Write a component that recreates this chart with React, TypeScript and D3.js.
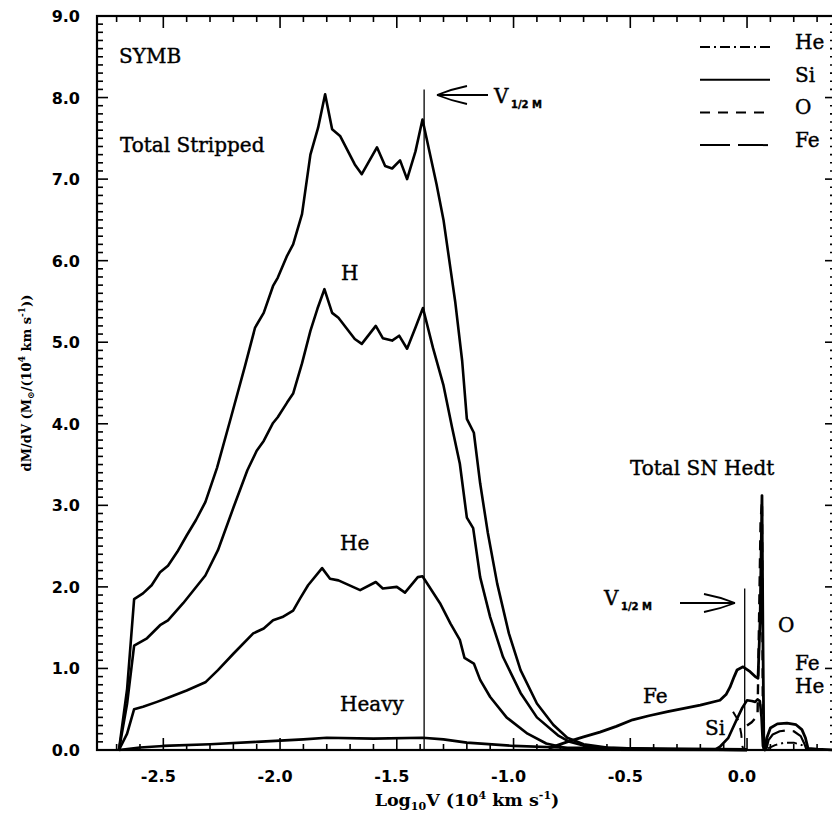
import React from "react";
import * as d3 from "d3";

type Pt = [number, number];

// stripped envelope (log10 V, dM/dV)
const totalStripped: Pt[] = [
  [-2.69, 0], [-2.655, 0.75], [-2.625, 1.85], [-2.587, 1.92], [-2.55, 2.02], [-2.514, 2.18],
  [-2.48, 2.26], [-2.44, 2.43], [-2.4, 2.63], [-2.36, 2.82], [-2.32, 3.04], [-2.27, 3.46],
  [-2.21, 4.08], [-2.15, 4.71], [-2.107, 5.18], [-2.07, 5.36], [-2.03, 5.69], [-2.01, 5.79],
  [-1.97, 6.06], [-1.944, 6.2], [-1.906, 6.57], [-1.87, 7.3], [-1.837, 7.63], [-1.807, 8.04],
  [-1.777, 7.61], [-1.743, 7.53], [-1.68, 7.18], [-1.65, 7.06], [-1.585, 7.39], [-1.55, 7.16],
  [-1.52, 7.13], [-1.486, 7.23], [-1.456, 7.0], [-1.42, 7.34], [-1.39, 7.73], [-1.33, 6.94],
  [-1.3, 6.5], [-1.27, 5.9], [-1.25, 5.5], [-1.22, 4.77], [-1.2, 4.06], [-1.17, 3.89],
  [-1.143, 3.27], [-1.11, 2.66], [-1.07, 2.04], [-1.02, 1.43], [-0.97, 0.98], [-0.9, 0.57],
  [-0.83, 0.31], [-0.77, 0.15], [-0.7, 0.07], [-0.6, 0.03], [-0.4, 0.01], [0.0, 0.0],
];

const hydrogen: Pt[] = [
  [-2.69, 0], [-2.655, 0.57], [-2.625, 1.28], [-2.57, 1.37], [-2.514, 1.53], [-2.48, 1.59],
  [-2.415, 1.8], [-2.32, 2.14], [-2.266, 2.45], [-2.2, 2.97], [-2.14, 3.43], [-2.1, 3.67],
  [-2.07, 3.79], [-2.03, 4.01], [-2.01, 4.08], [-1.97, 4.26], [-1.944, 4.37], [-1.906, 4.74],
  [-1.87, 5.14], [-1.84, 5.41], [-1.81, 5.65], [-1.777, 5.36], [-1.75, 5.3], [-1.68, 5.04],
  [-1.65, 4.98], [-1.59, 5.2], [-1.56, 5.05], [-1.52, 5.02], [-1.49, 5.08], [-1.456, 4.92],
  [-1.42, 5.18], [-1.388, 5.42], [-1.345, 4.93], [-1.3, 4.47], [-1.263, 3.95], [-1.23, 3.51],
  [-1.2, 2.85], [-1.173, 2.72], [-1.143, 2.12], [-1.1, 1.63], [-1.045, 1.14], [-0.97, 0.7],
  [-0.9, 0.4], [-0.81, 0.18], [-0.76, 0.1], [-0.68, 0.04], [-0.55, 0.015], [0.0, 0.0],
];

const helium: Pt[] = [
  [-2.69, 0], [-2.655, 0.2], [-2.625, 0.5], [-2.587, 0.53], [-2.527, 0.59], [-2.48, 0.64],
  [-2.4, 0.73], [-2.32, 0.83], [-2.266, 0.98], [-2.2, 1.18], [-2.115, 1.43], [-2.07, 1.49],
  [-2.03, 1.59], [-1.99, 1.63], [-1.944, 1.71], [-1.914, 1.86], [-1.88, 2.02], [-1.82, 2.23],
  [-1.786, 2.1], [-1.75, 2.08], [-1.657, 1.96], [-1.59, 2.06], [-1.56, 1.98], [-1.5, 2.0],
  [-1.465, 1.93], [-1.41, 2.12], [-1.39, 2.13], [-1.315, 1.8], [-1.27, 1.55], [-1.23, 1.35],
  [-1.21, 1.13], [-1.17, 1.06], [-1.143, 0.86], [-1.1, 0.65], [-1.03, 0.4], [-0.94, 0.2],
  [-0.86, 0.08], [-0.77, 0.02], [-0.6, 0.005], [0.0, 0.0],
];

const heavy: Pt[] = [
  [-2.69, 0], [-2.6, 0.03], [-2.5, 0.05], [-2.3, 0.07], [-2.1, 0.1], [-1.9, 0.13], [-1.8, 0.15],
  [-1.6, 0.14], [-1.39, 0.15], [-1.3, 0.13], [-1.2, 0.09], [-1.0, 0.05], [-0.8, 0.03],
  [-0.5, 0.02], [0.0, 0.01],
];

// supernova ejecta
const snTotal: Pt[] = [
  [-0.85, 0.02], [-0.77, 0.1], [-0.7, 0.16], [-0.63, 0.22], [-0.56, 0.29], [-0.49, 0.37],
  [-0.42, 0.42], [-0.34, 0.47], [-0.27, 0.51], [-0.2, 0.55], [-0.116, 0.61], [-0.09, 0.68],
  [-0.073, 0.77], [-0.055, 0.9], [-0.043, 0.98], [-0.017, 1.02], [0.013, 0.96], [0.035, 0.9],
  [0.047, 0.88], [0.056, 1.6], [0.064, 3.12], [0.068, 1.4], [0.072, 0.05], [0.077, 0.0],
  [0.085, 0.15], [0.1, 0.27], [0.13, 0.32], [0.171, 0.33], [0.21, 0.31], [0.235, 0.25],
  [0.25, 0.15], [0.261, 0.02], [0.3, 0.01], [0.38, 0.0],
];
const snSi: Pt[] = [
  [-0.14, 0.0], [-0.116, 0.04], [-0.08, 0.15], [-0.04, 0.4], [-0.02, 0.52], [0.0, 0.61],
  [0.02, 0.6], [0.035, 0.59], [0.045, 0.62], [0.055, 0.6], [0.062, 0.4], [0.068, 0.05], [0.075, 0.0],
];
const snOInner: Pt[] = [[-0.06, 0.47], [-0.035, 0.35], [-0.025, 0.2], [-0.02, 0.05], [-0.015, 0.0]];
const snO: Pt[] = [
  [0.0, 0.3], [0.02, 0.34], [0.045, 0.42], [0.058, 2.8], [0.064, 3.05], [0.068, 0.2], [0.072, 0.0],
];
const snFeHump: Pt[] = [
  [0.082, 0.0], [0.092, 0.12], [0.11, 0.19], [0.14, 0.23], [0.17, 0.24], [0.2, 0.23],
  [0.23, 0.17], [0.245, 0.08], [0.255, 0.0],
];
const snHeHump: Pt[] = [
  [0.09, 0.02], [0.12, 0.06], [0.16, 0.09], [0.2, 0.09], [0.235, 0.06], [0.25, 0.02],
];

const vHalfStripped = -1.383;
const vHalfStrippedTop = 8.1;
const vHalfSN = -0.01;
const vHalfSNTop = 1.98;

const xTickValues = [-2.5, -2.0, -1.5, -1.0, -0.5, 0.0];
const xTickLabels = ["-2.5", "-2.0", "-1.5", "-1.0", "-0.5", "0.0"];
const yTickValues = [0, 1, 2, 3, 4, 5, 6, 7, 8, 9];
const yTickLabels = ["0.0", "1.0", "2.0", "3.0", "4.0", "5.0", "6.0", "7.0", "8.0", "9.0"];
const legendNames = ["He", "Si", "O", "Fe"];

const dashes: Record<string, string> = { He: "10,4,2,4", Si: "none", O: "10,8", Fe: "30,8" };

const L = 97, R = 836, T = 16, B = 750;
const x = d3.scaleLinear().domain([-2.784, 0.381]).range([L, R]);
const y = d3.scaleLinear().domain([0, 9]).range([B, T]);
const line = d3.line<Pt>().x(d => x(d[0])).y(d => y(d[1]));

const serif = "'DejaVu Serif', serif";
const sans = "'DejaVu Sans', sans-serif";

export default function App() {
  const xMinor = d3.range(-27, 4).map(i => i / 10);
  const yMinor = d3.range(0, 91).map(i => i / 10);

  const curve = (d: Pt[], dash = "none", w = 2.6) => (
    <path d={line(d) || ""} fill="none" stroke="#000" strokeWidth={w}
      strokeDasharray={dash} strokeLinejoin="round" />
  );

  return (
    <div style={{ position: "absolute", left: 0, top: 0 }}>
      <svg width={832} height={818} style={{ display: "block", background: "#fff" }}>
        <rect x={0} y={0} width={832} height={818} fill="#fff" />

        {/* ticks */}
        {xMinor.map((v, i) => {
          const major = xTickValues.some(t => Math.abs(t - v) < 1e-6);
          const len = major ? 12 : 6;
          return (
            <g key={"xt" + i} stroke="#000" strokeWidth={1.6}>
              <line x1={x(v)} x2={x(v)} y1={B} y2={B - len} />
              <line x1={x(v)} x2={x(v)} y1={T} y2={T + len} />
            </g>
          );
        })}
        {yMinor.map((v, i) => {
          const major = Math.abs(v - Math.round(v)) < 1e-6;
          const len = major ? 11 : 6;
          return (
            <g key={"yt" + i} stroke="#000" strokeWidth={1.6}>
              <line x1={L} x2={L + len} y1={y(v)} y2={y(v)} />
              <line x1={R} x2={R - len} y1={y(v)} y2={y(v)} />
            </g>
          );
        })}
        <rect x={L} y={T} width={R - L} height={B - T} fill="none" stroke="#000" strokeWidth={2.2} />

        {/* tick labels */}
        {xTickValues.map((v, i) => (
          <text key={"xl" + i} x={x(v) - 5} y={782} textAnchor="middle"
            fontFamily={sans} fontWeight="bold" fontSize={16}>{xTickLabels[i]}</text>
        ))}
        {yTickValues.map((v, i) => (
          <text key={"yl" + i} x={80} y={y(v) + 6} textAnchor="end"
            fontFamily={sans} fontWeight="bold" fontSize={16}>{yTickLabels[i]}</text>
        ))}

        {/* axis titles */}
        <text x={467} y={806} textAnchor="middle" fontFamily={serif} fontWeight="bold" fontSize={17.5}>
          Log<tspan fontSize={11} dy={4}>10</tspan><tspan dy={-4}>V (10</tspan>
          <tspan fontSize={11} dy={-7}>4</tspan><tspan dy={7}> km s</tspan>
          <tspan fontSize={11} dy={-7}>-1</tspan><tspan dy={7}>)</tspan>
        </text>
        <text transform={`translate(31,${(T + B) / 2}) rotate(-90)`} textAnchor="middle"
          fontFamily={serif} fontWeight="bold" fontSize={13}>
          dM/dV (M<tspan fontSize={9} dy={3}>⊙</tspan><tspan dy={-3}>/(10</tspan>
          <tspan fontSize={9} dy={-6}>4</tspan><tspan dy={6}> km s</tspan>
          <tspan fontSize={9} dy={-6}>-1</tspan><tspan dy={6}>))</tspan>
        </text>

        {/* curves */}
        {curve(totalStripped)}
        {curve(hydrogen)}
        {curve(helium)}
        {curve(heavy)}
        {curve(snTotal, "none", 2.8)}
        {curve(snSi)}
        {curve(snOInner, dashes.O, 2)}
        {curve(snO, dashes.O, 2.4)}
        {curve(snFeHump, dashes.Fe, 2.2)}
        {curve(snHeHump, dashes.He, 2)}

        {/* half-mass velocity markers */}
        <line x1={x(vHalfStripped)} x2={x(vHalfStripped)} y1={y(0)} y2={y(vHalfStrippedTop)} stroke="#000" strokeWidth={1.3} />
        <line x1={x(vHalfSN)} x2={x(vHalfSN)} y1={y(0)} y2={y(vHalfSNTop)} stroke="#000" strokeWidth={1.3} />

        <g stroke="#000" strokeWidth={1.8} fill="none">
          <path d="M437,95 L488,95 M437,95 Q452,89 467,86 M437,95 Q452,101 467,104" />
          <path d="M680,603 L735,603 M735,603 Q720,597 704,594 M735,603 Q720,609 704,612" />
        </g>
        <g stroke="#000" strokeWidth={0.4}>
          <text x={494} y={103} fontFamily={serif} fontSize={20}>V</text>
          <text x={511} y={108} fontFamily={sans} fontWeight="bold" fontSize={10}>1/2 M</text>
          <text x={604} y={605} fontFamily={serif} fontSize={20}>V</text>
          <text x={621} y={610} fontFamily={sans} fontWeight="bold" fontSize={10}>1/2 M</text>
        </g>

        {/* labels */}
        <g fontFamily={serif} fontSize={20} stroke="#000" strokeWidth={0.4}>
          <text x={119} y={63}>SYMB</text>
          <text x={120} y={152}>Total Stripped</text>
          <text x={341} y={280}>H</text>
          <text x={340} y={550}>He</text>
          <text x={340} y={711}>Heavy</text>
          <text x={630} y={475}>Total SN Hedt</text>
          <text x={643} y={703}>Fe</text>
          <text x={705} y={735}>Si</text>
          <text x={778} y={632}>O</text>
          <text x={795} y={670}>Fe</text>
          <text x={795} y={693}>He</text>
        </g>

        {/* legend */}
        {legendNames.map((n, i) => {
          const ly = 47 + i * 32.7;
          return (
            <g key={"lg" + n}>
              <line x1={700} x2={770} y1={ly} y2={ly} stroke="#000" strokeWidth={2}
                strokeDasharray={dashes[n]} />
              <text x={795} y={ly + 2} fontFamily={serif} fontSize={20} stroke="#000" strokeWidth={0.4}>{n}</text>
            </g>
          );
        })}
      </svg>
    </div>
  );
}
